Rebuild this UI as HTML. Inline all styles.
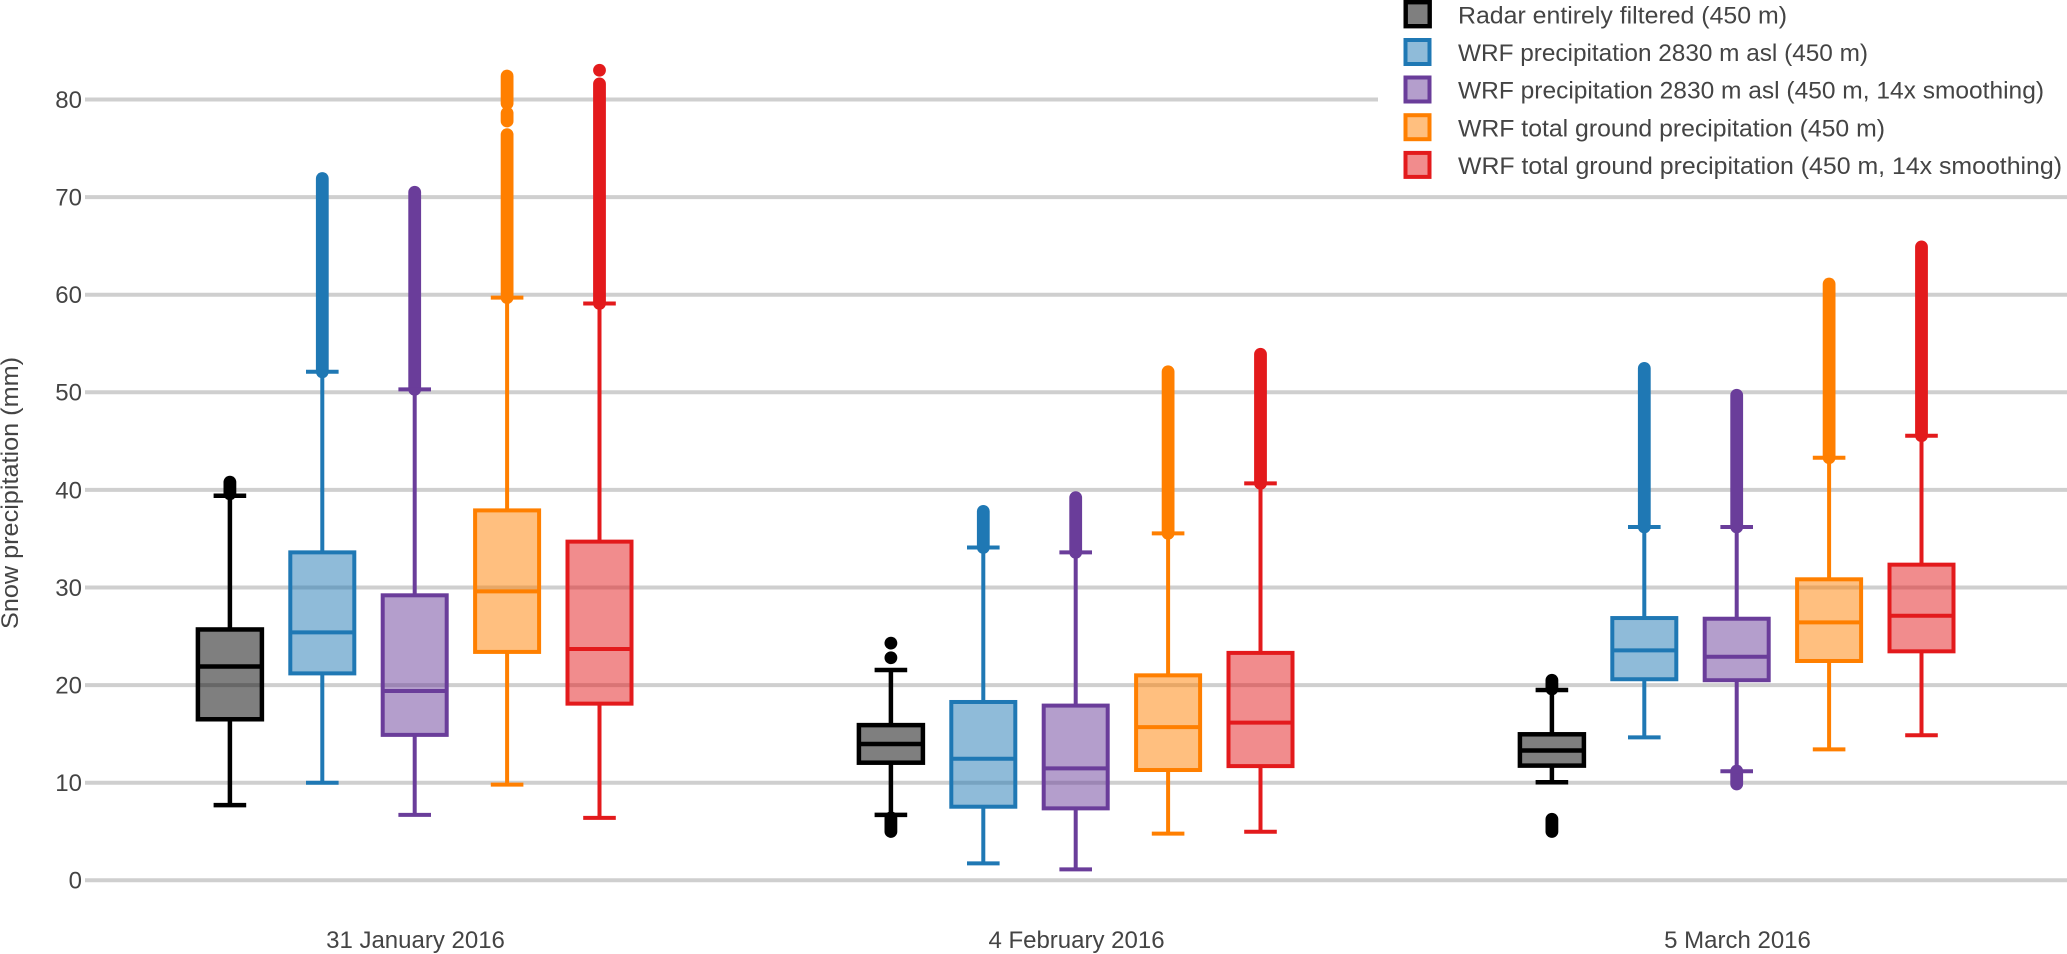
<!DOCTYPE html>
<html lang="en">
<head>
<meta charset="utf-8">
<title>Snow precipitation box plot</title>
<style>
  html, body { margin: 0; padding: 0; background: #fff; }
  svg { display: block; }
  text { font-family: "Liberation Sans", sans-serif; fill: #444; }
</style>
</head>
<body>
<svg id="chart" xmlns="http://www.w3.org/2000/svg" width="2067" height="954" viewBox="0 0 2067 954">
  <rect x="0" y="0" width="2067" height="954" fill="#fff"/>
  <g id="grid"></g>
  <g id="marks"></g>
  <g id="yticks"></g>
  <g id="xticks"></g>
  <text transform="translate(18,493) rotate(-90)" text-anchor="middle" font-size="24" textLength="272" lengthAdjust="spacingAndGlyphs">Snow precipitation (mm)</text>
  <g>
    <rect x="1378" y="0" width="689" height="185" fill="#fff"/>
    <g>
      <rect x="1405.7" y="2.2" width="24" height="24" fill="rgba(0,0,0,0.5)" stroke="#000" stroke-width="4.4"/>
      <text x="1458" y="23.3" font-size="24" textLength="329" lengthAdjust="spacingAndGlyphs">Radar entirely filtered (450 m)</text>
    </g>
    <g>
      <rect x="1405.5" y="40" width="24" height="24" fill="rgba(31,120,180,0.5)" stroke="#1f78b4" stroke-width="4"/>
      <text x="1458" y="61" font-size="24" textLength="410" lengthAdjust="spacingAndGlyphs">WRF precipitation 2830 m asl (450 m)</text>
    </g>
    <g>
      <rect x="1405.5" y="77.5" width="24" height="24" fill="rgba(106,61,154,0.5)" stroke="#6a3d9a" stroke-width="4"/>
      <text x="1458" y="98.7" font-size="24" textLength="586" lengthAdjust="spacingAndGlyphs">WRF precipitation 2830 m asl (450 m, 14x smoothing)</text>
    </g>
    <g>
      <rect x="1405.5" y="115.2" width="24" height="24" fill="rgba(255,127,0,0.5)" stroke="#ff7f00" stroke-width="4"/>
      <text x="1458" y="136.3" font-size="24" textLength="427" lengthAdjust="spacingAndGlyphs">WRF total ground precipitation (450 m)</text>
    </g>
    <g>
      <rect x="1405.5" y="152.9" width="24" height="24" fill="rgba(227,26,28,0.5)" stroke="#e31a1c" stroke-width="4"/>
      <text x="1458" y="174" font-size="24" textLength="604" lengthAdjust="spacingAndGlyphs">WRF total ground precipitation (450 m, 14x smoothing)</text>
    </g>
  </g>
</svg>
<script>
const categories = ["31 January 2016", "4 February 2016", "5 March 2016"];
const seriesKeys = ["radar", "wrf-2830", "wrf-2830-smoothed", "wrf-ground", "wrf-ground-smoothed"];
const yTicks = [0, 10, 20, 30, 40, 50, 60, 70, 80];

// Each inner array: radar, WRF 2830, WRF 2830 smoothed, WRF ground, WRF ground smoothed
const whiskerLow = [
  [7.7, 10.0, 6.7, 9.8, 6.4],
  [6.7, 1.74, 1.12, 4.78, 4.98],
  [10.04, 14.65, 11.17, 13.42, 14.86]
];
const q1Values = [
  [16.5, 21.2, 14.9, 23.4, 18.1],
  [12.05, 7.54, 7.37, 11.3, 11.7],
  [11.75, 20.6, 20.5, 22.47, 23.46]
];
const medians = [
  [21.9, 25.4, 19.4, 29.6, 23.7],
  [13.97, 12.46, 11.47, 15.7, 16.15],
  [13.3, 23.56, 22.9, 26.43, 27.1]
];
const q3Values = [
  [25.7, 33.6, 29.2, 37.9, 34.7],
  [15.9, 18.27, 17.9, 21.0, 23.3],
  [14.96, 26.87, 26.8, 30.84, 32.34]
];
const whiskerHigh = [
  [39.4, 52.1, 50.3, 59.7, 59.1],
  [21.55, 34.1, 33.6, 35.55, 40.67],
  [19.5, 36.2, 36.2, 43.3, 45.55]
];
// Outliers are saturated: each entry is a [low, high] run of overlapping points; low === high is a single point
const outlierRuns = [
  [
    [[39.6, 40.8]],
    [[52.1, 71.9]],
    [[50.3, 70.5]],
    [[59.7, 76.4], [77.8, 78.6], [79.6, 82.4]],
    [[59.1, 81.6], [83.0, 83.0]]
  ],
  [
    [[5.0, 6.4], [22.8, 22.8], [24.3, 24.3]],
    [[34.1, 37.8]],
    [[33.6, 39.2]],
    [[35.55, 52.1]],
    [[40.67, 53.9]]
  ],
  [
    [[5.0, 6.25], [19.6, 20.5]],
    [[36.2, 52.45]],
    [[9.87, 11.2], [36.2, 49.7]],
    [[43.3, 61.1]],
    [[45.55, 64.9]]
  ]
];
const seriesColors = ["#000000", "#1f78b4", "#6a3d9a", "#ff7f00", "#e31a1c"];

const NS = "http://www.w3.org/2000/svg";
function make(tag, parent, props, text) {
  const el = document.createElementNS(NS, tag);
  for (const k in props) el.setAttribute(k, props[k]);
  if (text !== undefined) el.textContent = text;
  parent.appendChild(el);
  return el;
}
function yScale(v) { return 880.3 - v * 9.76; }
function groupCenter(dateIndex) { return 414.7 + dateIndex * 661; }
function xScale(dateIndex, seriesIndex) { return groupCenter(dateIndex) + (seriesIndex - 2) * 92.4; }

const gridG = document.getElementById("grid");
const yTickG = document.getElementById("yticks");
const xTickG = document.getElementById("xticks");
const marksG = document.getElementById("marks");

yTicks.forEach(function (t) {
  const line = make("line", gridG, { x1: 85, x2: 2067, y1: yScale(t), y2: yScale(t), stroke: "#cfcfcf", "stroke-width": 4 });
  
  
  const label = make("text", yTickG, { x: 82, y: yScale(t) + 8.4, "text-anchor": "end", "font-size": 24 }, String(t));
  
  
});

categories.forEach(function (cat, d) {
  const label = make("text", xTickG, { x: groupCenter(d) + 0.8, y: 948, "text-anchor": "middle", "font-size": 24 }, cat);
  
  

  seriesKeys.forEach(function (key, s) {
    const cx = xScale(d, s);
    const color = seriesColors[s];
    const sw = s === 0 ? 4.5 : 4;
    const halfBox = 32;
    const halfCap = 16.3;

    const group = make("g", marksG, {});
    
    

    outlierRuns[d][s].forEach(function (run) {
      let dot;
      if (run[0] === run[1]) {
        dot = make("circle", group, { cx: cx, cy: yScale(run[0]), r: 6.4, fill: color });
      } else {
        dot = make("line", group, { x1: cx, x2: cx, y1: yScale(run[0]), y2: yScale(run[1]), stroke: color, "stroke-width": 12.8, "stroke-linecap": "round" });
      }
      
      
    });

    const stemUp = make("line", group, { x1: cx, x2: cx, y1: yScale(q3Values[d][s]), y2: yScale(whiskerHigh[d][s]), stroke: color, "stroke-width": sw });
    
    
    const stemDown = make("line", group, { x1: cx, x2: cx, y1: yScale(q1Values[d][s]), y2: yScale(whiskerLow[d][s]), stroke: color, "stroke-width": sw });
    
    
    const capUp = make("line", group, { x1: cx - halfCap, x2: cx + halfCap, y1: yScale(whiskerHigh[d][s]), y2: yScale(whiskerHigh[d][s]), stroke: color, "stroke-width": sw });
    
    
    const capDown = make("line", group, { x1: cx - halfCap, x2: cx + halfCap, y1: yScale(whiskerLow[d][s]), y2: yScale(whiskerLow[d][s]), stroke: color, "stroke-width": sw });
    
    

    const top = yScale(q3Values[d][s]);
    const bottom = yScale(q1Values[d][s]);
    const box = make("rect", group, { x: cx - halfBox, y: top, width: halfBox * 2, height: bottom - top, fill: color, "fill-opacity": 0.5, stroke: color, "stroke-width": sw });
    
    
    const med = make("line", group, { x1: cx - halfBox, x2: cx + halfBox, y1: yScale(medians[d][s]), y2: yScale(medians[d][s]), stroke: color, "stroke-width": sw });
    
    
  });
});
</script>
</body>
</html>
